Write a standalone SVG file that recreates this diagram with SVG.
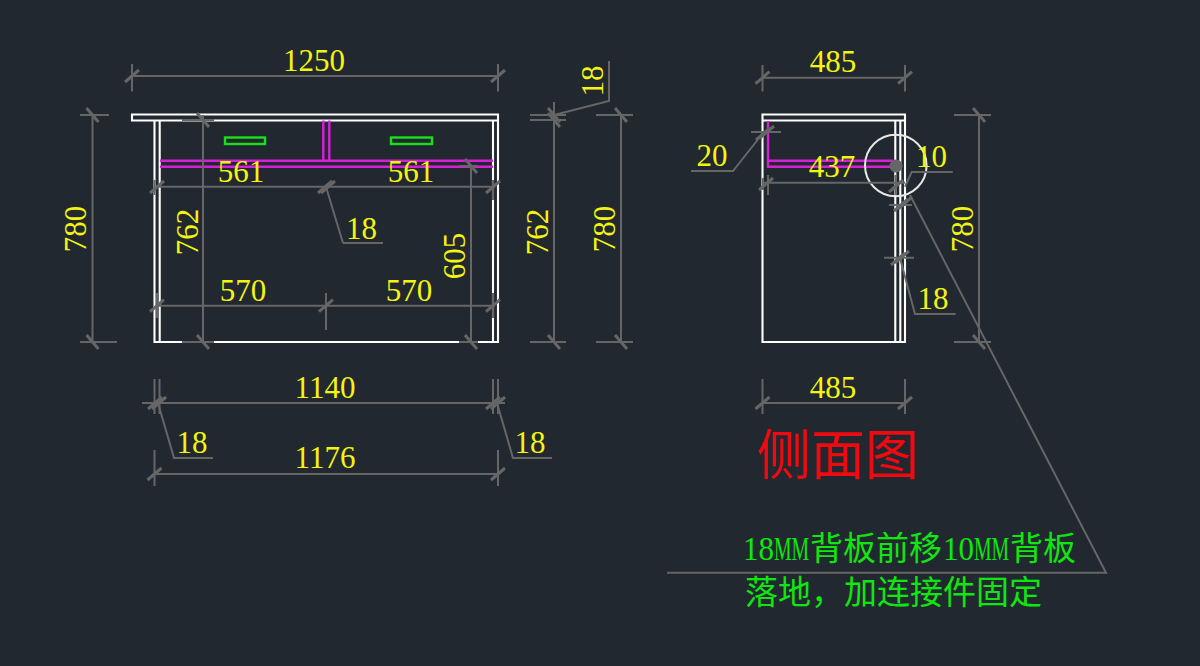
<svg xmlns="http://www.w3.org/2000/svg" xmlns:xlink="http://www.w3.org/1999/xlink" width="1200" height="666" viewBox="0 0 1200 666">
<style>
.w{fill:none;stroke:#fff;stroke-width:2.1}
.m{fill:none;stroke:#d81fd8;stroke-width:2.4}
.gr{fill:none;stroke:#19e019;stroke-width:2.4}
.d{fill:none;stroke:#666;stroke-width:2}
.tk{fill:none;stroke:#666;stroke-width:3}
text{font-family:"Liberation Serif","Noto Sans CJK SC",serif}
.y{fill:#f4f410;font-size:31px;text-anchor:middle}
.g{fill:#10e610;font-size:33px}
.l{fill:#10e610;font-size:33px}
.r{fill:#ee0a10;font-size:54px}
</style>
<defs>
<path id="a" d="M-7 6L7-6"/>
<path id="b" d="M-6-7L6 7"/>
</defs>
<rect width="1200" height="666" fill="#212830"/>
<g id="front-cabinet">
<path class="w" d="M132 114.5H498V120.5H132ZM154.5 120.500V342H498V114.500M159.700 120.500V342M493 120.500V342"/>
<path class="m" d="M160 160.700H493M160 166.700H493M323.300 120.500V160.700M329.300 120.500V160.700"/>
<rect class="gr" x="225" y="137.500" width="40" height="6.500"/>
<rect class="gr" x="391" y="137.500" width="41" height="6.500"/>
</g>
<g id="side-cabinet">
<path class="w" d="M762.500 114.500H905V342H762.500ZM762.500 120.500H905M895.300 120.500V342M900.300 120.500V342"/>
<path class="m" d="M768 121V166.700H893M768 160.700H893M768 121V160" stroke-width="3"/>
<path fill="none" stroke="#e8e8e8" stroke-width="2" d="M926.600 165.500A30.800 30.800 0 1 1 865 165.500A30.800 30.800 0 1 1 926.600 165.500Z"/>
<circle cx="896" cy="166" r="6.500" fill="#666"/>
</g>
<g id="connectors">
<path class="d" d="M132 76H498M132 64V91.500M498 64V91.500"/>
<path class="d" d="M92.500 115V342M80 115H109M80 342H117"/>
<path class="d" d="M203 115V342M182 120H214M182 342H214"/>
<path class="d" d="M156 186.700H493M343 243H383M326 187L343 243"/>
<path class="d" d="M471 166V342M459 166H478M459 342H478"/>
<path class="d" d="M157 305.700H495M326 293V330M157 293V318M493 293V318M154.500 180V195M493 180V200"/>
<path class="d" d="M142 403H505M154.500 379V414M159.500 379V414M493 379V414M498 379V414"/>
<path class="d" d="M158 403L174 458H213M497 403L513 458H552"/>
<path class="d" d="M154.500 474H498M154.500 450V486M498 450V486"/>
<path class="d" d="M554 102V342M530 115H566M530 120H566M530 342H566M554 115L609 101V61"/>
<path class="d" d="M621 115V342M596 115H633M596 342H633"/>
<path class="d" d="M762.500 77.700H905M762.500 65V91.500M905 65V91.500"/>
<path class="d" d="M763 133L733 171H691M751 132H781"/>
<path class="d" d="M763 182.700H905M768 175V195M763 178V190M895.500 175V195"/>
<path class="d" d="M905 186.700L911.700 172H952.700"/>
<path class="d" d="M910 195L1106 572.700H667"/>
<path class="d" d="M889 205H912M884 257.700H914M900 258L915 314H955.700"/>
<path class="d" d="M979 115V342M954 115H991M954 342H991"/>
<path class="d" d="M762.500 403H905M762.500 379V414M905 379V414"/>
<g class="tk">
<use xlink:href="#a" x="132" y="76"/><use xlink:href="#a" x="498" y="76"/>
<use xlink:href="#b" x="92.500" y="115"/><use xlink:href="#b" x="92.500" y="342"/>
<use xlink:href="#b" x="203" y="120"/><use xlink:href="#b" x="203" y="342"/>
<use xlink:href="#a" x="157" y="187"/><use xlink:href="#a" x="325" y="187"/><use xlink:href="#a" x="328" y="187"/><use xlink:href="#a" x="493" y="187"/>
<use xlink:href="#b" x="471" y="166"/><use xlink:href="#b" x="471" y="342"/>
<use xlink:href="#a" x="157" y="305.700"/><use xlink:href="#a" x="326" y="305.700"/><use xlink:href="#a" x="493" y="305.700"/>
<use xlink:href="#a" x="155" y="403"/><use xlink:href="#a" x="159" y="403"/><use xlink:href="#a" x="493" y="403"/><use xlink:href="#a" x="498" y="403"/>
<use xlink:href="#a" x="154.500" y="474"/><use xlink:href="#a" x="498" y="474"/>
<use xlink:href="#b" x="554" y="115"/><use xlink:href="#b" x="554" y="120"/><use xlink:href="#b" x="554" y="342"/>
<use xlink:href="#b" x="621" y="115"/><use xlink:href="#b" x="621" y="342"/>
<use xlink:href="#a" x="762.500" y="77.700"/><use xlink:href="#a" x="905" y="77.700"/>
<use xlink:href="#a" x="763" y="134"/><use xlink:href="#a" x="767" y="132"/>
<use xlink:href="#a" x="766" y="184"/><use xlink:href="#a" x="896" y="186"/>
<use xlink:href="#a" x="905" y="203"/><use xlink:href="#a" x="901" y="205"/>
<use xlink:href="#a" x="898" y="259"/><use xlink:href="#a" x="902" y="257"/>
<use xlink:href="#b" x="979" y="115"/><use xlink:href="#b" x="979" y="342"/>
<use xlink:href="#a" x="762.500" y="403"/><use xlink:href="#a" x="905" y="403"/>
</g>
</g>
<g id="labels">
<text class="y" x="314" y="71">1250</text>
<text class="y" transform="translate(86 229) rotate(-90)">780</text>
<text class="y" transform="translate(198 232) rotate(-90)">762</text>
<text class="y" x="241" y="182">561</text>
<text class="y" x="411" y="182">561</text>
<text class="y" x="361.500" y="239">18</text>
<text class="y" transform="translate(465 256) rotate(-90)">605</text>
<text class="y" x="243" y="300.500">570</text>
<text class="y" x="409" y="300.500">570</text>
<text class="y" x="325" y="398">1140</text>
<text class="y" x="192" y="453">18</text>
<text class="y" x="530" y="453">18</text>
<text class="y" x="325" y="468">1176</text>
<text class="y" transform="translate(603 81) rotate(-90)">18</text>
<text class="y" transform="translate(548 232) rotate(-90)">762</text>
<text class="y" transform="translate(615 229) rotate(-90)">780</text>
<text class="y" x="833" y="72">485</text>
<text class="y" x="712" y="166">20</text>
<text class="y" x="832" y="177">437</text>
<text class="y" x="931.500" y="167">10</text>
<text class="y" x="933" y="309">18</text>
<text class="y" transform="translate(973 229) rotate(-90)">780</text>
<text class="y" x="833" y="397.500">485</text>
<text class="r" x="757" y="475">侧面图</text>
<text class="l" transform="translate(743 560) scale(.94 1)">18</text>
<text class="l" transform="translate(774 560) scale(.6 1)">MM</text>
<text class="g" x="810" y="560">背板前移</text>
<text class="l" transform="translate(943 560) scale(.94 1)">10</text>
<text class="l" transform="translate(974 560) scale(.6 1)">MM</text>
<text class="g" x="1010" y="560">背板</text>
<text class="g" x="745" y="604" style="font-family:'Noto Sans CJK SC',sans-serif">落地&#65292;加连接件固定</text>
</g>
</svg>
